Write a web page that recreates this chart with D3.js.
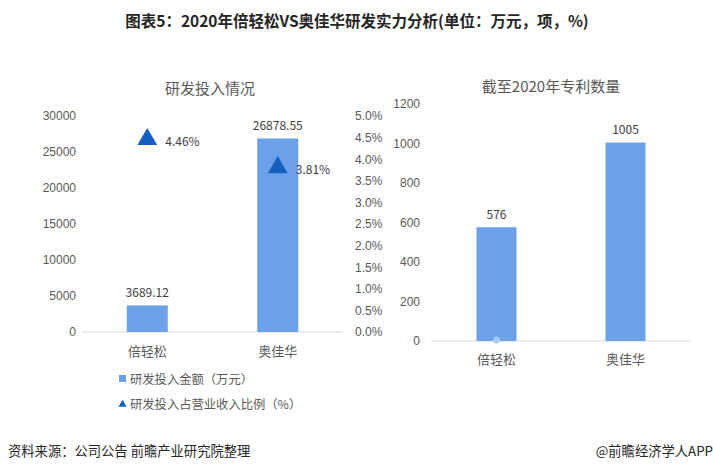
<!DOCTYPE html>
<html><head><meta charset="utf-8">
<script src="https://cdn.jsdelivr.net/npm/d3@7"></script>
<style>
html,body{margin:0;padding:0;background:#fff;}
svg{display:block;font-family:"Noto Sans CJK SC","Noto Sans",sans-serif;}
</style></head>
<body><svg id="c" width="713" height="470"></svg>
<script>
const categories = ["倍轻松", "奥佳华"];
const rdAmount = [3689.12, 26878.55];
const rdAmountLabels = ["3689.12", "26878.55"];
const rdRatio = [4.46, 3.81];
const rdRatioLabels = ["4.46%", "3.81%"];
const patents = [576, 1005];
const leftTicks = [0, 5000, 10000, 15000, 20000, 25000, 30000];
const pctTicks = [0, 0.5, 1, 1.5, 2, 2.5, 3, 3.5, 4, 4.5, 5];
const patentTicks = [0, 200, 400, 600, 800, 1000, 1200];

const svg = d3.select("#c");
const barColor = "#6ca0e8", triColor = "#155fbf", textColor = "#595959", axisColor = "#d9d9d9";

// main title
svg.append("text").attr("x", 357).attr("y", 20).attr("text-anchor", "middle")
  .attr("dominant-baseline", "central").attr("font-size", 15.5).attr("font-weight", "bold")
  .attr("fill", "#262626").text("图表5：2020年倍轻松VS奥佳华研发实力分析(单位：万元，项，%)");

// ---------- Left chart ----------
const x1 = d3.scaleBand().domain(categories).range([82, 343]).paddingInner(0).paddingOuter(0);
const y1 = d3.scaleLinear().domain([0, 30000]).range([332, 116]);
const yp = d3.scaleLinear().domain([0, 5]).range([332, 116]);
const bw1 = 41;

svg.append("text").attr("x", 210).attr("y", 87).attr("text-anchor", "middle")
  .attr("dominant-baseline", "central").attr("font-size", 15).attr("fill", textColor).text("研发投入情况");

const axL = svg.append("g").attr("transform", "translate(76,0)")
  .call(d3.axisLeft(y1).tickValues(leftTicks).tickSize(0).tickPadding(0).tickFormat(d3.format("d")));
axL.select(".domain").remove();
axL.selectAll("text").attr("font-size", 12).attr("fill", textColor).attr("font-family", "inherit");

const axP = svg.append("g").attr("transform", "translate(355,0)")
  .call(d3.axisRight(yp).tickValues(pctTicks).tickSize(0).tickPadding(0).tickFormat(d => d.toFixed(1) + "%"));
axP.select(".domain").remove();
axP.selectAll("text").attr("font-size", 12).attr("fill", textColor).attr("font-family", "inherit");

svg.append("line").attr("x1", 82).attr("x2", 343).attr("y1", y1(0)).attr("y2", y1(0))
  .attr("stroke", axisColor).attr("stroke-width", 1);

svg.selectAll(".b1").data(categories).enter().append("rect")
  .attr("x", d => x1(d) + x1.bandwidth() / 2 - bw1 / 2)
  .attr("y", (d, i) => y1(rdAmount[i]))
  .attr("width", bw1).attr("height", (d, i) => y1(0) - y1(rdAmount[i])).attr("fill", barColor);

svg.selectAll(".l1").data(categories).enter().append("text")
  .attr("x", d => x1(d) + x1.bandwidth() / 2).attr("y", (d, i) => y1(rdAmount[i]) - 14)
  .attr("text-anchor", "middle").attr("dominant-baseline", "central")
  .attr("font-size", 12).attr("fill", "#404040").text((d, i) => rdAmountLabels[i]);

const tri = d3.symbol().type(d3.symbolTriangle).size(170);
svg.selectAll(".t1").data(categories).enter().append("path")
  .attr("d", tri).attr("fill", triColor)
  .attr("transform", (d, i) => `translate(${x1(d) + x1.bandwidth() / 2},${yp(rdRatio[i])})`);

svg.selectAll(".tl").data(categories).enter().append("text")
  .attr("x", d => x1(d) + x1.bandwidth() / 2 + 18).attr("y", (d, i) => yp(rdRatio[i]) + 1)
  .attr("dominant-baseline", "central").attr("font-size", 12).attr("fill", "#404040")
  .text((d, i) => rdRatioLabels[i]);

svg.selectAll(".c1").data(categories).enter().append("text")
  .attr("x", d => x1(d) + x1.bandwidth() / 2).attr("y", 350)
  .attr("text-anchor", "middle").attr("dominant-baseline", "central")
  .attr("font-size", 13).attr("fill", textColor).text(d => d);

// legend
svg.append("rect").attr("x", 119).attr("y", 375).attr("width", 7).attr("height", 7).attr("fill", barColor);
svg.append("text").attr("x", 130).attr("y", 378.5).attr("dominant-baseline", "central")
  .attr("font-size", 12.3).attr("fill", textColor).text("研发投入金额（万元）");
svg.append("path").attr("d", d3.symbol().type(d3.symbolTriangle).size(28)).attr("fill", triColor)
  .attr("transform", "translate(122.5,404.5)");
svg.append("text").attr("x", 130).attr("y", 404).attr("dominant-baseline", "central")
  .attr("font-size", 12.3).attr("fill", textColor).text("研发投入占营业收入比例（%）");

// ---------- Right chart ----------
const x2 = d3.scaleBand().domain(categories).range([432, 690]);
const y2 = d3.scaleLinear().domain([0, 1200]).range([341, 104]);
const bw2 = 40;

svg.append("text").attr("x", 551).attr("y", 85).attr("text-anchor", "middle")
  .attr("dominant-baseline", "central").attr("font-size", 15).attr("fill", textColor).text("截至2020年专利数量");

const axR = svg.append("g").attr("transform", "translate(420,0)")
  .call(d3.axisLeft(y2).tickValues(patentTicks).tickSize(0).tickPadding(0).tickFormat(d3.format("d")));
axR.select(".domain").remove();
axR.selectAll("text").attr("font-size", 12).attr("fill", textColor).attr("font-family", "inherit");

svg.append("line").attr("x1", 432).attr("x2", 690).attr("y1", y2(0)).attr("y2", y2(0))
  .attr("stroke", axisColor).attr("stroke-width", 1);

svg.selectAll(".b2").data(categories).enter().append("rect")
  .attr("x", d => x2(d) + x2.bandwidth() / 2 - bw2 / 2)
  .attr("y", (d, i) => y2(patents[i]))
  .attr("width", bw2).attr("height", (d, i) => y2(0) - y2(patents[i])).attr("fill", barColor);

svg.selectAll(".l2").data(categories).enter().append("text")
  .attr("x", d => x2(d) + x2.bandwidth() / 2).attr("y", (d, i) => y2(patents[i]) - 14)
  .attr("text-anchor", "middle").attr("dominant-baseline", "central")
  .attr("font-size", 12).attr("fill", "#404040").text((d, i) => patents[i]);

svg.append("circle").attr("cx", x2(categories[0]) + x2.bandwidth() / 2).attr("cy", y2(0) - 1)
  .attr("r", 3.5).attr("fill", "#a9c9f5");

svg.selectAll(".c2").data(categories).enter().append("text")
  .attr("x", d => x2(d) + x2.bandwidth() / 2).attr("y", 358)
  .attr("text-anchor", "middle").attr("dominant-baseline", "central")
  .attr("font-size", 13).attr("fill", textColor).text(d => d);

// footer
svg.append("text").attr("x", 8).attr("y", 450).attr("dominant-baseline", "central")
  .attr("font-size", 13.3).attr("fill", "#262626").text("资料来源：公司公告 前瞻产业研究院整理");
svg.append("text").attr("x", 713).attr("y", 450).attr("text-anchor", "end").attr("dominant-baseline", "central")
  .attr("font-size", 13.3).attr("fill", "#262626").text("@前瞻经济学人APP");
</script></body></html>
